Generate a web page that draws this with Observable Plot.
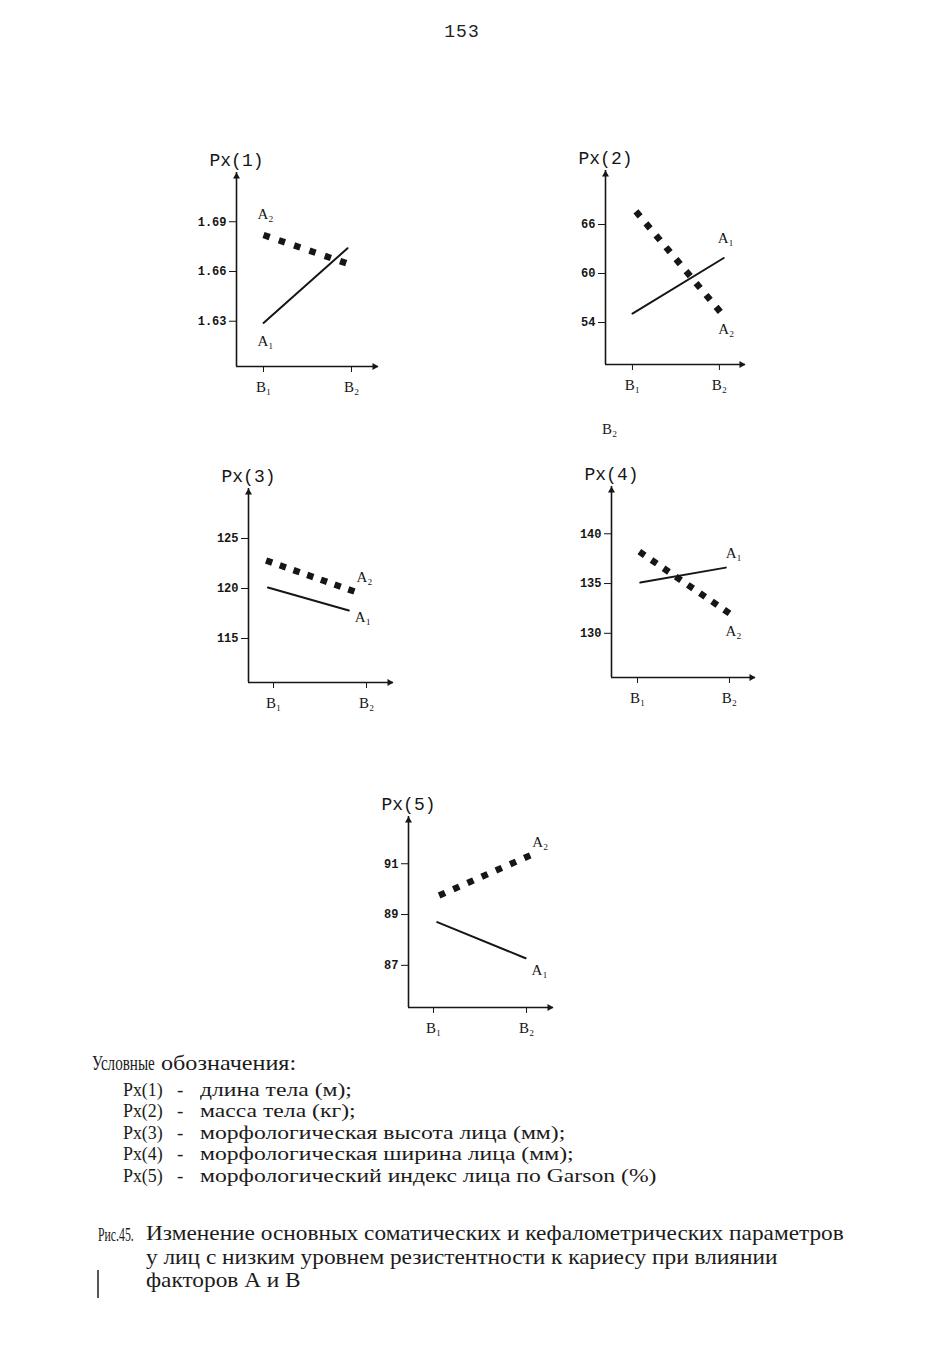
<!DOCTYPE html>
<html>
<head>
<meta charset="utf-8">
<script src="https://cdn.jsdelivr.net/npm/d3@7"></script>
<script src="https://cdn.jsdelivr.net/npm/@observablehq/plot@0.6"></script>
<style>
  html, body { margin: 0; padding: 0; background: #fff; }
  #page { position: relative; width: 943px; height: 1350px; overflow: hidden; background: #fff; color: #1b1b1b; font-family: "Liberation Serif", "DejaVu Serif", serif; }
  .abs { position: absolute; white-space: nowrap; line-height: 20px; font-size: 20px; }
  .cond { display: inline-block; transform-origin: left center; }
  .pagenum { position: absolute; left: 0; width: 924px; top: 22px; text-align: center; font-family: "Liberation Mono", "DejaVu Sans Mono", monospace; font-size: 18px; letter-spacing: 1px; color: #222; }
  .mark { position: absolute; width: 1.5px; background: #555; }
</style>
</head>
<body>
<div id="page">
  <div class="pagenum">153</div>
</div>
<script>
// ---------- DATA ----------
const panelTitles = ["Px(1)", "Px(2)", "Px(3)", "Px(4)", "Px(5)"];
const xTicks = [1, 2];
const xTickLabels = ["B₁", "B₂"];
const seriesLabels = ["A₁", "A₂"];

// Panel 1: длина тела (м)
const p1Ticks = [1.63, 1.66, 1.69];
const p1YDomain = [1.6027, 1.7197];
const p1XDomain = [0.693, 2.307];
const p1A1X = [1.0, 1.955];
const p1A1Y = [1.629, 1.674];
const p1A2X = [1.0, 1.94];
const p1A2Y = [1.682, 1.665];

// Panel 2: масса тела (кг)
const p2Ticks = [54, 60, 66];
const p2YDomain = [48.86, 72.61];
const p2XDomain = [0.69, 2.30];
const p2A1X = [1.0, 2.05];
const p2A1Y = [55.1, 61.9];
const p2A2X = [1.04, 2.01];
const p2A2Y = [67.6, 55.3];

// Panel 3: морфологическая высота лица (мм)
const p3Ticks = [115, 120, 125];
const p3YDomain = [110.6, 130.0];
const p3XDomain = [0.731, 2.29];
const p3A1X = [0.94, 1.81];
const p3A1Y = [120.1, 117.8];
const p3A2X = [0.92, 1.87];
const p3A2Y = [122.8, 119.7];

// Panel 4: морфологическая ширина лица (мм)
const p4Ticks = [130, 135, 140];
const p4YDomain = [125.56, 144.75];
const p4XDomain = [0.717, 2.283];
const p4A1X = [1.03, 1.96];
const p4A1Y = [135.1, 136.6];
const p4A2X = [1.02, 2.0];
const p4A2Y = [138.2, 132.0];

// Panel 5: морфологический индекс лица по Garson (%)
const p5Ticks = [87, 89, 91];
const p5YDomain = [85.34, 92.86];
const p5XDomain = [0.731, 2.29];
const p5A1X = [1.04, 1.99];
const p5A1Y = [88.7, 87.28];
const p5A2X = [1.06, 2.04];
const p5A2Y = [89.75, 91.33];

const legendTitle = ["Условные", "обозначения:"];
const legendKeys = ["Px(1)", "Px(2)", "Px(3)", "Px(4)", "Px(5)"];
const legendTexts = [
  "длина тела (м);",
  "масса тела (кг);",
  "морфологическая высота лица (мм);",
  "морфологическая ширина лица (мм);",
  "морфологический индекс лица по Garson (%)"
];
const captionLabel = "Рис.45.";
const captionLines = [
  "Изменение основных соматических и кефалометрических параметров",
  "у лиц с низким уровнем резистентности к кариесу при влиянии",
  "факторов А и В"
];

// ---------- LAYOUT / STYLE ----------
const INK = "#161616";
const MONO = "'Liberation Mono', 'DejaVu Sans Mono', monospace";
const SERIF = "'Liberation Serif', 'DejaVu Serif', serif";
const DOT = 6.5;
const page = document.getElementById("page");
const zip = (xs, ys) => xs.map((x, i) => ({x, y: ys[i]}));

const panels = [
  {title: panelTitles[0], ticks: p1Ticks, fmt: d => d.toFixed(2), yDomain: p1YDomain, xDomain: p1XDomain,
   a1: zip(p1A1X, p1A1Y), a2: zip(p1A2X, p1A2Y), box: {axisX: 236, topY: 172, baseY: 366, rightX: 378},
   dots: 6, l1: {end: 0, dx: 2, dy: 18}, l2: {end: 0, dx: 2, dy: -21}},
  {title: panelTitles[1], ticks: p2Ticks, fmt: d => String(d), yDomain: p2YDomain, xDomain: p2XDomain,
   a1: zip(p2A1X, p2A1Y), a2: zip(p2A2X, p2A2Y), box: {axisX: 605, topY: 170, baseY: 364, rightX: 745},
   dots: 9, l1: {end: 1, dx: 2, dy: -20}, l2: {end: 1, dx: 6, dy: 17}},
  {title: panelTitles[2], ticks: p3Ticks, fmt: d => String(d), yDomain: p3YDomain, xDomain: p3XDomain,
   a1: zip(p3A1X, p3A1Y), a2: zip(p3A2X, p3A2Y), box: {axisX: 248, topY: 488, baseY: 682, rightX: 393},
   dots: 7, l1: {end: 1, dx: 14, dy: 7}, l2: {end: 1, dx: 10, dy: -14}},
  {title: panelTitles[3], ticks: p4Ticks, fmt: d => String(d), yDomain: p4YDomain, xDomain: p4XDomain,
   a1: zip(p4A1X, p4A1Y), a2: zip(p4A2X, p4A2Y), box: {axisX: 611, topY: 486, baseY: 677, rightX: 755},
   dots: 8, l1: {end: 1, dx: 8, dy: -14}, l2: {end: 1, dx: 4, dy: 18}},
  {title: panelTitles[4], ticks: p5Ticks, fmt: d => String(d), yDomain: p5YDomain, xDomain: p5XDomain,
   a1: zip(p5A1X, p5A1Y), a2: zip(p5A2X, p5A2Y), box: {axisX: 408, topY: 816, baseY: 1007, rightX: 553},
   dots: 7, l1: {end: 1, dx: 14, dy: 12}, l2: {end: 1, dx: 10, dy: -13}}
];

function makePanel(p) {
  const mL = 60, mR = 50, mT = 40, mB = 45;
  const innerW = p.box.rightX - p.box.axisX, innerH = p.box.baseY - p.box.topY;
  const [xLo, xHi] = p.xDomain, [yLo, yHi] = p.yDomain;
  const label = (pts, cfg, text) => Plot.text([cfg.end ? pts[pts.length - 1] : pts[0]], {
    x: "x", y: "y", text: () => text, dx: cfg.dx, dy: cfg.dy,
    fontFamily: SERIF, fontSize: 15, fill: INK, textAnchor: "middle", lineAnchor: "middle"
  });
  const chart = Plot.plot({
    width: innerW + mL + mR, height: innerH + mT + mB,
    marginLeft: mL, marginRight: mR, marginTop: mT, marginBottom: mB,
    x: {domain: [xLo, xHi]},
    y: {domain: [yLo, yHi]},
    style: {background: "transparent", color: INK, overflow: "visible"},
    marks: [
      Plot.ruleX([xLo], {stroke: INK, strokeWidth: 1.6}),
      Plot.ruleY([yLo], {stroke: INK, strokeWidth: 1.6}),
      Plot.dot([{x: xLo, y: yHi}], {x: "x", y: "y", symbol: "triangle", r: 2.6, fill: INK, stroke: null, dy: 4}),
      Plot.dot([{x: xHi, y: yLo}], {x: "x", y: "y", symbol: "triangle", r: 2.6, fill: INK, stroke: null, rotate: 90, dx: -4}),
      Plot.axisY(p.ticks, {tickSize: 7, tickPadding: 3, tickFormat: p.fmt, fontFamily: MONO, fontSize: 12, fontWeight: "bold", label: null}),
      Plot.axisX(xTicks, {tickSize: 6, tickPadding: 9, tickFormat: d => xTickLabels[xTicks.indexOf(d)], fontFamily: SERIF, fontSize: 15, label: null}),
      Plot.line(p.a1, {x: "x", y: "y", stroke: INK, strokeWidth: 2}),
      Plot.line(p.a2, {x: "x", y: "y", stroke: INK, strokeWidth: DOT, strokeLinecap: "butt"}),
      label(p.a1, p.l1, seriesLabels[0]),
      label(p.a2, p.l2, seriesLabels[1]),
      Plot.text([p.title], {frameAnchor: "top-left", text: d => d, dy: -12, textAnchor: "middle", lineAnchor: "middle", fontFamily: MONO, fontSize: 18, fill: INK})
    ]
  });
  chart.style.position = "absolute";
  chart.style.left = (p.box.axisX - mL) + "px";
  chart.style.top = (p.box.topY - mT) + "px";
  page.appendChild(chart);
  // dotted A2 line: evenly spaced square dots from the first to the last value
  chart.querySelectorAll(`g[stroke-width="${DOT}"] path`).forEach(path => {
    const L = path.getTotalLength();
    const period = (L - DOT) / (p.dots - 1);
    path.setAttribute("stroke-dasharray", `${DOT} ${Math.max(0.1, period - DOT)}`);
  });
}
panels.forEach(makePanel);

// stray label under panel 2 (present in the original page)
const stray = document.createElement("div");
stray.className = "abs";
stray.style.cssText = "left:602px;top:419px;font-size:15px;line-height:20px;";
stray.textContent = xTickLabels[1];
page.appendChild(stray);

// ---------- LEGEND & CAPTION ----------
function addText(txt, left, centerY, opts = {}) {
  const size = opts.size || 20;
  const d = document.createElement("div");
  d.className = "abs";
  d.style.left = left + "px";
  d.style.fontSize = size + "px";
  d.style.lineHeight = size + "px";
  d.style.top = (centerY - size * 0.6) + "px";
  if (opts.scale) {
    const s = document.createElement("span");
    s.className = "cond";
    s.style.transform = `scaleX(${opts.scale})`;
    s.textContent = txt;
    d.appendChild(s);
  } else d.textContent = txt;
  page.appendChild(d);
}
addText(legendTitle[0], 92, 1066, {scale: 0.72, size: 21});
addText(legendTitle[1], 161, 1066, {scale: 1.15, size: 21});
const rowY = [1091, 1112.5, 1134, 1155.5, 1177];
legendKeys.forEach((k, i) => {
  addText(k, 123, rowY[i], {scale: 0.94, size: 19});
  addText("-", 177, rowY[i], {size: 19});
  addText(legendTexts[i], 200, rowY[i], {scale: 1.245, size: 19});
});
addText(captionLabel, 98, 1236, {scale: 0.62, size: 19});
const capY = [1236, 1259.5, 1283];
captionLines.forEach((t, i) => addText(t, 146, capY[i], {scale: 1.11, size: 21}));
const bar = document.createElement("div");
bar.className = "mark";
bar.style.cssText += "left:97px;top:1270px;height:28px;";
page.appendChild(bar);
</script>
</body>
</html>
